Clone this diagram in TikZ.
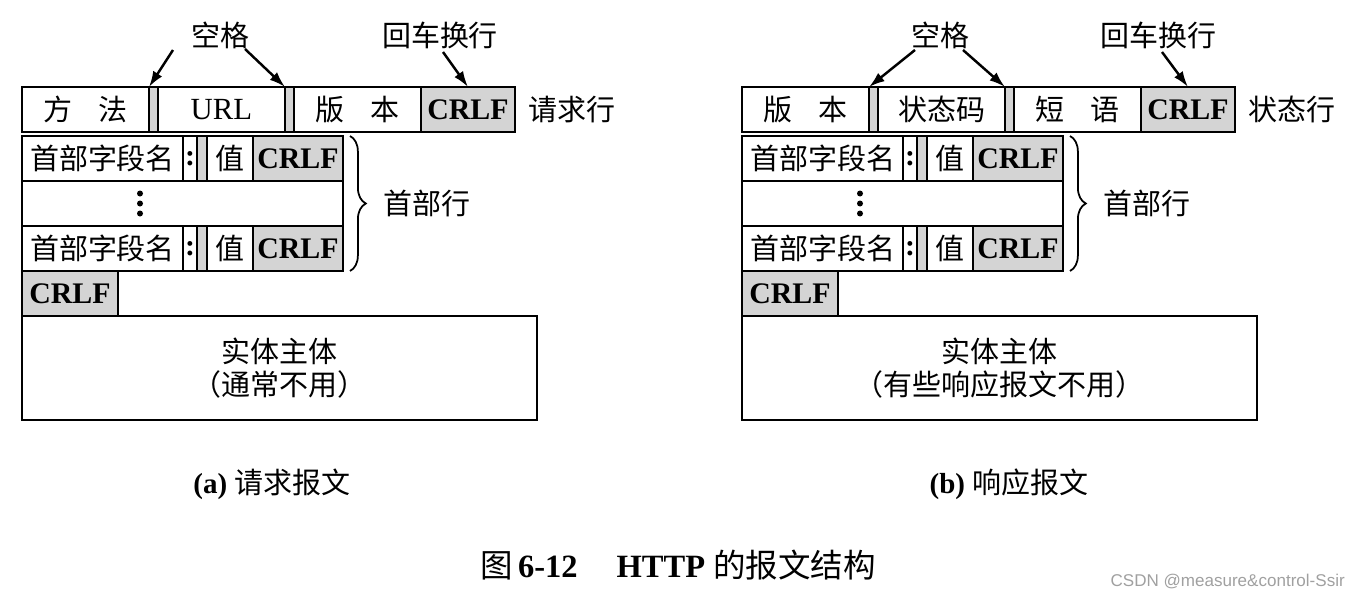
\documentclass[tikz,border=0pt]{standalone}
\usepackage{fontspec}
\setmainfont{Liberation Serif}
\setsansfont{Liberation Sans}
\newfontfamily\cjk{Noto Sans CJK SC}
\definecolor{cellgray}{RGB}{212,212,212}
\definecolor{wmgray}{RGB}{160,160,160}
\usetikzlibrary{arrows.meta,positioning,calc,decorations.pathreplacing}

\begin{document}
\begin{tikzpicture}[
  cell/.style={draw, line width=1pt, inner sep=0pt, outer sep=0pt, minimum height=0.9cm, font=\cjk\fontsize{16.5}{19}\selectfont},
  gapcell/.style={cell, fill=cellgray, minimum width=0.18cm},
  crlfcell/.style={cell, fill=cellgray, font=\rmfamily\bfseries\fontsize{17}{19}\selectfont},
  colcell/.style={cell, minimum width=0.28cm, font=\rmfamily\bfseries\fontsize{17}{19}\selectfont},
  lbl/.style={inner sep=0pt, font=\cjk\fontsize{16.5}{19}\selectfont},
  arr/.style={line width=1.4pt, -{Latex[length=9pt,width=6pt]}},
  brc/.style={line width=1pt, decorate, decoration={brace, amplitude=9pt}},
]
  \useasboundingbox (0,0) rectangle (27.04,12.08);

  % (a) request message: request line
  \node[cell, anchor=north west, minimum width=2.54cm] (qm) at (0.44,10.34) {方\hspace{0.9em}法};
  \node[gapcell, right=0pt of qm] (qg1) {};
  \node[cell, right=0pt of qg1, minimum width=2.54cm, font=\rmfamily\fontsize{17.5}{19}\selectfont] (qu) {URL};
  \node[gapcell, right=0pt of qu] (qg2) {};
  \node[cell, right=0pt of qg2, minimum width=2.54cm] (qv) {版\hspace{0.9em}本};
  \node[crlfcell, right=0pt of qv, minimum width=1.88cm] (qc) {CRLF};
  \node[lbl, right=0.26cm of qc] (qrl) {请求行};

  % header lines
  \node[cell, anchor=north west, minimum width=3.22cm] (qn1) at (0.44,9.36) {首部字段名};
  \node[colcell, right=0pt of qn1] (qk1) {:};
  \node[gapcell, right=0pt of qk1, minimum width=0.2cm] (qs1) {};
  \node[cell, right=0pt of qs1, minimum width=0.92cm] (qv1) {值};
  \node[crlfcell, right=0pt of qv1, minimum width=1.8cm] (qc1) {CRLF};
  \node[cell, anchor=north west, minimum width=6.42cm] (qd) at (qn1.south west) {};
  \foreach \k in {-1,0,1} \fill ($(qd.center)+(-0.85,\k*0.2)$) circle (0.06);
  \node[cell, anchor=north west, minimum width=3.22cm] (qn2) at (qd.south west) {首部字段名};
  \node[colcell, right=0pt of qn2] (qk2) {:};
  \node[gapcell, right=0pt of qk2, minimum width=0.2cm] (qs2) {};
  \node[cell, right=0pt of qs2, minimum width=0.92cm] (qv2) {值};
  \node[crlfcell, right=0pt of qv2, minimum width=1.8cm] (qc2) {CRLF};
  \draw[brc] ($(qc1.north east)+(0.14,0)$) -- ($(qc2.south east)+(0.14,0)$);
  \node[lbl, anchor=west] (qhl) at ($(qc1.north east)!0.5!(qc2.south east)+(0.8,0)$) {首部行};

  % blank line and body
  \node[crlfcell, anchor=north west, minimum width=1.92cm] (qc3) at (qn2.south west) {CRLF};
  \node[cell, anchor=north west, minimum width=10.3cm, minimum height=2.08cm, align=center] (qe) at (qc3.south west) {实体主体\\（通常不用）};

  % pointers
  \node[lbl] (qsp) at (4.40,11.38) {空格};
  \node[lbl] (qcr) at (8.80,11.38) {回车换行};
  \coordinate (qa1) at (3.46,11.08);
  \coordinate (qa2) at (4.90,11.10);
  \coordinate (qa3) at (8.86,11.04);
  \draw[arr] (qa1) -- (qg1.north west);
  \draw[arr] (qa2) -- (qg2.north west);
  \draw[arr] (qa3) -- (qc.north);

  \begin{scope}[xshift=14.4cm]
    % (b) response message: status line
    \node[cell, anchor=north west, minimum width=2.54cm] (pm) at (0.44,10.34) {版\hspace{0.9em}本};
    \node[gapcell, right=0pt of pm] (pg1) {};
    \node[cell, right=0pt of pg1, minimum width=2.54cm] (pu) {状态码};
    \node[gapcell, right=0pt of pu] (pg2) {};
    \node[cell, right=0pt of pg2, minimum width=2.54cm] (pv) {短\hspace{0.9em}语};
    \node[crlfcell, right=0pt of pv, minimum width=1.88cm] (pc) {CRLF};
    \node[lbl, right=0.26cm of pc] (prl) {状态行};

    % header lines
    \node[cell, anchor=north west, minimum width=3.22cm] (pn1) at (0.44,9.36) {首部字段名};
    \node[colcell, right=0pt of pn1] (pk1) {:};
    \node[gapcell, right=0pt of pk1, minimum width=0.2cm] (ps1) {};
    \node[cell, right=0pt of ps1, minimum width=0.92cm] (pv1) {值};
    \node[crlfcell, right=0pt of pv1, minimum width=1.8cm] (pc1) {CRLF};
    \node[cell, anchor=north west, minimum width=6.42cm] (pd) at (pn1.south west) {};
    \foreach \k in {-1,0,1} \fill ($(pd.center)+(-0.85,\k*0.2)$) circle (0.06);
    \node[cell, anchor=north west, minimum width=3.22cm] (pn2) at (pd.south west) {首部字段名};
    \node[colcell, right=0pt of pn2] (pk2) {:};
    \node[gapcell, right=0pt of pk2, minimum width=0.2cm] (ps2) {};
    \node[cell, right=0pt of ps2, minimum width=0.92cm] (pv2) {值};
    \node[crlfcell, right=0pt of pv2, minimum width=1.8cm] (pc2) {CRLF};
    \draw[brc] ($(pc1.north east)+(0.14,0)$) -- ($(pc2.south east)+(0.14,0)$);
    \node[lbl, anchor=west] (phl) at ($(pc1.north east)!0.5!(pc2.south east)+(0.8,0)$) {首部行};

    % blank line and body
    \node[crlfcell, anchor=north west, minimum width=1.92cm] (pc3) at (pn2.south west) {CRLF};
    \node[cell, anchor=north west, minimum width=10.3cm, minimum height=2.08cm, align=center] (pe) at (pc3.south west) {实体主体\\（有些响应报文不用）};

    % pointers
    \node[lbl] (psp) at (4.40,11.38) {空格};
    \node[lbl] (pcr) at (8.76,11.38) {回车换行};
    \coordinate (pa1) at (3.90,11.08);
    \coordinate (pa2) at (4.86,11.08);
    \coordinate (pa3) at (8.84,11.04);
    \draw[arr] (pa1) -- (pg1.north west);
    \draw[arr] (pa2) -- (pg2.north west);
    \draw[arr] (pa3) -- (pc.north);
  \end{scope}

  % captions
  \node[font=\fontsize{16.5}{19}\selectfont] (qcap) at (5.44,2.40) {\textbf{(a)} {\cjk 请求报文}};
  \node[font=\fontsize{16.5}{19}\selectfont] (pcap) at (20.18,2.40) {\textbf{(b)} {\cjk 响应报文}};
  \node[font=\fontsize{18.5}{21}\selectfont] (title) at (13.56,0.78) {{\cjk 图}\,\textbf{6-12}\hspace{1.2em}\textbf{HTTP} {\cjk 的报文结构}};
  \node[anchor=east, text=wmgray, font=\sffamily\fontsize{9.7}{12}\selectfont] (wm) at (27.02,0.46) {CSDN @measure\&control-Ssir};
\end{tikzpicture}
\end{document}
